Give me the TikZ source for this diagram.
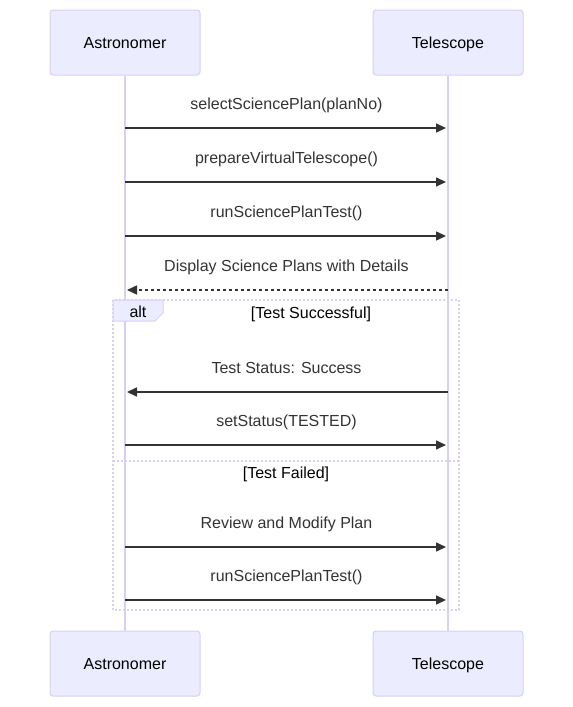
\documentclass[tikz,border=0pt]{standalone}
\usepackage{fontspec}
\setmainfont{Liberation Sans}
\usepackage{xcolor}
\usetikzlibrary{arrows.meta,positioning,calc,backgrounds}

\definecolor{actorfill}{HTML}{ECECFF}
\definecolor{actorline}{HTML}{D9CFF3}
\definecolor{msgline}{HTML}{333333}

\begin{document}
\begin{tikzpicture}[
        x=1pt, y=-1pt,
        font=\fontsize{16}{19}\selectfont,
        every node/.style={text height=11.5pt, text depth=0pt},
        % actor boxes and lifelines
        actor/.style={draw=actorline, fill=actorfill, rounded corners=3pt, line width=1pt,
                      minimum width=150pt, minimum height=65pt, inner sep=0pt},
        lifeline/.style={draw=actorline, line width=1.5pt},
        % messages
        msg/.style={-{Triangle[length=10pt,width=9pt]}, draw=msgline, line width=1.5pt, shorten >=2pt},
        reply/.style={msg, dash pattern=on 3pt off 3pt},
        msglabel/.style={text=msgline, yshift=24pt},
        % alt frame
        altframe/.style={draw=actorline, line width=2pt, dash pattern=on 2pt off 2pt},
        alttab/.style={draw=actorline, fill=actorfill, line width=1pt},
        guard/.style={text=black}
    ]

    \useasboundingbox (0,0) rectangle (573,707);

    % actors
    \node[actor] (astroTop) at (125,42.5) {Astronomer};
    \node[actor] (teleTop)  at (448,42.5) {Telescope};
    \node[actor] (astroBot) at (125,663.5) {Astronomer};
    \node[actor] (teleBot)  at (448,663.5) {Telescope};

    % lifelines
    \begin{pgfonlayer}{background}
        \draw[lifeline] (astroTop.south) -- (astroBot.north);
        \draw[lifeline] (teleTop.south) -- (teleBot.north);
    \end{pgfonlayer}

    % message points on the lifelines
    \foreach \n/\y in {1/128, 2/182, 3/236, 4/290, 5/392, 6/445, 7/547, 8/600} {
        \coordinate (a\n) at (125,\y);
        \coordinate (t\n) at (448,\y);
    }

    % alt frame
    \coordinate (altNW) at (113,300);
    \coordinate (altSE) at (459,610);
    \draw[altframe] (altNW) rectangle (altSE);
    \draw[altframe] (113,461) -- (459,461);
    \draw[alttab] (113,300) -- (163,300) -- (163,313) -- (155,321) -- (113,321) -- cycle;
    \node (altLabel) at (138,312) {alt};
    \node[guard] (guardOk)   at (311,313) {[Test Successful]};
    \node[guard] (guardFail) at (286,473) {[Test Failed]};

    % messages
    \draw[msg]   (a1) -- (t1) node[midway, msglabel] {selectSciencePlan(planNo)};
    \draw[msg]   (a2) -- (t2) node[midway, msglabel] {prepareVirtualTelescope()};
    \draw[msg]   (a3) -- (t3) node[midway, msglabel] {runSciencePlanTest()};
    \draw[reply] (t4) -- (a4) node[midway, msglabel] {Display Science Plans with Details};
    \draw[msg]   (t5) -- (a5) node[midway, msglabel] {Test Status: Success};
    \draw[msg]   (a6) -- (t6) node[midway, msglabel] {setStatus(TESTED)};
    \draw[msg]   (a7) -- (t7) node[midway, msglabel] {Review and Modify Plan};
    \draw[msg]   (a8) -- (t8) node[midway, msglabel] {runSciencePlanTest()};

\end{tikzpicture}
\end{document}
